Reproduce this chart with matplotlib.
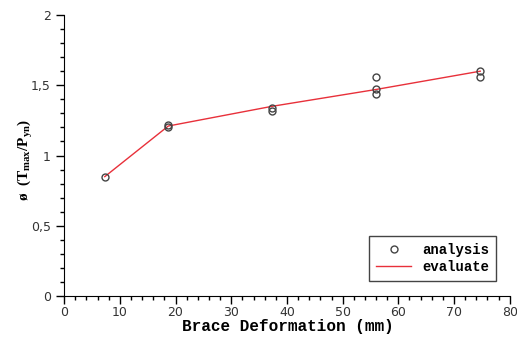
import matplotlib
matplotlib.use('Agg')
import matplotlib.pyplot as plt
from matplotlib.ticker import MultipleLocator, FuncFormatter

# analysis points
ana_x = [7.3, 18.7, 18.7, 37.3, 37.3, 56.0, 56.0, 56.0, 74.7, 74.7]
ana_y = [0.85, 1.22, 1.20, 1.34, 1.32, 1.56, 1.47, 1.44, 1.60, 1.56]

# evaluate line
eva_x = [7.3, 18.7, 37.3, 56.0, 74.7]
eva_y = [0.85, 1.21, 1.35, 1.47, 1.60]

plt.rcParams['mathtext.default'] = 'regular'

fig = plt.figure(figsize=(5.17, 3.40), dpi=100)
ax = fig.add_axes([0.124, 0.129, 0.862, 0.827])

ax.plot(eva_x, eva_y, color='#e8303a', lw=1.0, label='evaluate', zorder=2)
ax.plot(ana_x, ana_y, ls='none', marker='o', mfc='none', mec='#444444',
        ms=5, mew=1.0, label='analysis', zorder=3)

ax.set_xlim(0, 80)
ax.set_ylim(0, 2)
ax.spines['top'].set_visible(False)
ax.spines['right'].set_visible(False)

ax.xaxis.set_major_locator(MultipleLocator(10))
ax.xaxis.set_minor_locator(MultipleLocator(2))
ax.yaxis.set_major_locator(MultipleLocator(0.5))
ax.yaxis.set_minor_locator(MultipleLocator(0.1))
ax.yaxis.set_major_formatter(FuncFormatter(lambda v, p: ('%g' % v).replace('.', ',')))
ax.tick_params(which='major', length=6, width=1, labelsize=9, labelcolor='#333333')
ax.tick_params(which='minor', length=3, width=1)
ax.tick_params(axis='x', pad=1)

ax.set_xlabel('Brace Deformation (mm)', family='Liberation Mono',
              fontweight='bold', fontsize=11.5, va='center')
ax.xaxis.set_label_coords(0.502, -0.108)
ax.set_ylabel('ø  (T$_{max}$/P$_{yn}$)', family='Liberation Serif',
              fontweight='bold', fontsize=11, va='center')
ax.yaxis.set_label_coords(-0.087, 0.484)

h, l = ax.get_legend_handles_labels()
leg = ax.legend(h[::-1], l[::-1], loc='lower right', bbox_to_anchor=(0.985, 0.03),
                prop={'family': 'Liberation Mono', 'weight': 'bold', 'size': 10},
                fancybox=False, edgecolor='#444444', framealpha=1,
                handlelength=2.5, borderpad=0.5, labelspacing=0.2)
leg.get_frame().set_linewidth(1.0)

fig.savefig('out.png', dpi=100)
